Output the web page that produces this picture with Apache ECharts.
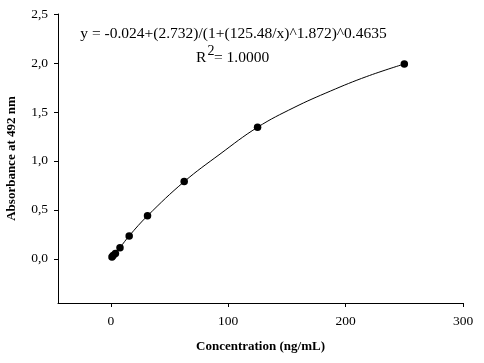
<!DOCTYPE html>
<html>
<head>
<meta charset="utf-8">
<script src="https://cdn.jsdelivr.net/npm/echarts@6/dist/echarts.min.js"></script>
<style>html,body{margin:0;padding:0;background:#fff;}#c{width:484px;height:363px;}</style>
</head>
<body>
<div id="c"></div>
<script>
// Standard points
var concentrations = [0.98, 1.95, 3.91, 7.81, 15.63, 31.25, 62.5, 125, 250];
var absorbance = [0.02, 0.035, 0.055, 0.115, 0.235, 0.44, 0.789, 1.344, 1.99];
// Fitted curve
var curveX = [0.98, 1.95, 3.91, 7.81, 15.63, 31.25, 62.5, 93, 125, 156, 187, 218, 250];
var curveY = [0.02, 0.035, 0.055, 0.115, 0.235, 0.44, 0.789, 1.07, 1.344, 1.545, 1.713, 1.862, 1.99];
var xTicks = [0, 100, 200, 300];
var yTicks = [0, 0.5, 1.0, 1.5, 2.0, 2.5];
var equationText = 'y = -0.024+(2.732)/(1+(125.48/x)^1.872)^0.4635';
var r2Text = '= 1.0000';

var points = concentrations.map(function (c, i) { return [c, absorbance[i]]; });
var curve = curveX.map(function (c, i) { return [c, curveY[i]]; });
var serif = '"Liberation Serif", "Times New Roman", serif';

var chart = echarts.init(document.getElementById('c'));
chart.setOption({
  animation: false,
  backgroundColor: '#fff',
  grid: { left: 58, top: 14, right: 21, bottom: 60, containLabel: false, outerBoundsMode: 'none' },
  xAxis: {
    type: 'value', min: -45, max: 300,
    name: 'Concentration (ng/mL)', nameLocation: 'middle', nameGap: 37,
    nameTextStyle: { fontFamily: serif, fontWeight: 'bold', fontSize: 13, color: '#000' },
    axisLine: { show: true, onZero: false, lineStyle: { color: '#000', width: 1 } },
    axisTick: { show: true, customValues: xTicks, length: 4, inside: false, lineStyle: { color: '#000' } },
    axisLabel: { customValues: xTicks, fontFamily: serif, fontSize: 13.5, color: '#000', margin: 11 },
    splitLine: { show: false }
  },
  yAxis: {
    type: 'value', min: -0.45, max: 2.5,
    name: 'Absorbance at 492 nm', nameLocation: 'middle', nameGap: 40, nameRotate: 90,
    nameTextStyle: { fontFamily: serif, fontWeight: 'bold', fontSize: 13, color: '#000' },
    axisLine: { show: true, onZero: false, lineStyle: { color: '#000', width: 1 } },
    axisTick: { show: true, customValues: yTicks, length: 4, lineStyle: { color: '#000' } },
    axisLabel: { customValues: yTicks, fontFamily: serif, fontSize: 13.5, color: '#000', margin: 10,
      formatter: function (v) { return v.toFixed(1).replace('.', ','); } },
    splitLine: { show: false }
  },
  series: [{
    type: 'line',
    data: curve,
    smooth: 0.4,
    symbol: 'none',
    lineStyle: { color: '#000', width: 1 },
    z: 2
  }, {
    type: 'scatter',
    data: points,
    symbol: 'circle',
    symbolSize: 7.5,
    itemStyle: { color: '#000', opacity: 1 },
    z: 3
  }],
  graphic: [
    { type: 'text', style: { text: equationText, font: '15.5px ' + serif, fill: '#000', x: 233.5, y: 34, align: 'center', verticalAlign: 'middle' } },
    { type: 'text', style: { text: 'R', font: '15.5px ' + serif, fill: '#000', x: 196, y: 58, align: 'left', verticalAlign: 'middle' } },
    { type: 'text', style: { text: '2', font: '14px ' + serif, fill: '#000', x: 207.5, y: 51, align: 'left', verticalAlign: 'middle' } },
    { type: 'text', style: { text: r2Text, font: '15.5px ' + serif, fill: '#000', x: 214, y: 58, align: 'left', verticalAlign: 'middle' } }
  ]
});
</script>
</body>
</html>
